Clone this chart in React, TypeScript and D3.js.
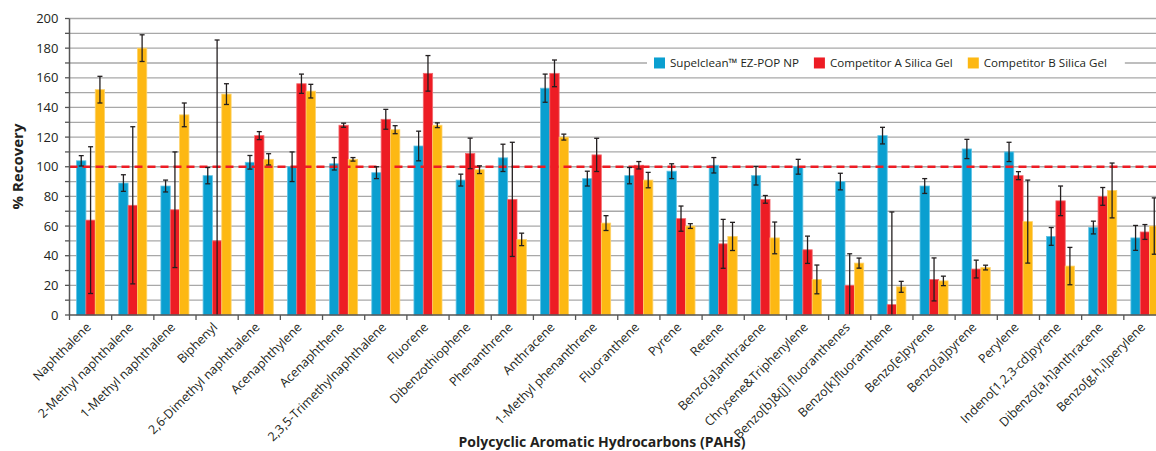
import React, { useEffect, useRef } from "react";
import * as d3 from "d3";

const categories = [
  "Naphthalene",
  "2-Methyl naphthalene",
  "1-Methyl naphthalene",
  "Biphenyl",
  "2,6-Dimethyl naphthalene",
  "Acenaphthylene",
  "Acenaphthene",
  "2,3,5-Trimethylnaphthalene",
  "Fluorene",
  "Dibenzothiophene",
  "Phenanthrene",
  "Anthracene",
  "1-Methyl phenanthrene",
  "Fluoranthene",
  "Pyrene",
  "Retene",
  "Benzo[a]anthracene",
  "Chrysene&Triphenylene",
  "Benzo[b]&[j] fluoranthenes",
  "Benzo[k]fluoranthene",
  "Benzo[e]pyrene",
  "Benzo[a]pyrene",
  "Perylene",
  "Indeno[1,2,3-cd]pyrene",
  "Dibenzo[a,h]anthracene",
  "Benzo[g,h,i]perylene",
];

const seriesNames = ["Supelclean™ EZ-POP NP", "Competitor A Silica Gel", "Competitor B Silica Gel"];

const supelclean = [104, 89, 87, 94, 103, 100, 102, 96, 114, 91, 106, 153, 92, 94, 97, 101, 94, 100, 90, 121, 87, 112, 110, 53, 59, 52];
const supelcleanErr = [3.5, 5.6, 4, 5.5, 4.6, 10, 4.2, 4, 10, 4, 9.2, 9.5, 5, 5.5, 5, 5.2, 6.3, 5, 5.6, 5.6, 5, 6.5, 6.5, 6, 4.3, 8.4];
const competitorA = [64, 74, 71, 50, 121, 156, 128, 132, 163, 109, 78, 163, 108, 101, 65, 48, 78, 44, 20, 7, 24, 31, 94, 77, 80, 56];
const competitorAErr = [49.5, 53, 39, 135.5, 2.7, 6.5, 1.4, 6.7, 12, 10.3, 38.5, 9, 11.2, 2.5, 8.5, 16.5, 2.6, 9.2, 21.3, 62.5, 14.5, 6, 2.7, 10, 6, 5];
const competitorB = [152, 180, 135, 149, 105, 151, 105, 125, 128, 98, 51, 120, 62, 91, 60, 53, 52, 24, 35, 19, 23, 32, 63, 33, 84, 60];
const competitorBErr = [9, 9, 8, 7, 3.8, 4.6, 1.2, 2.7, 1.6, 2.6, 4.2, 2, 5, 5.2, 1.6, 9.5, 10.7, 9.7, 3.4, 3.7, 3.2, 1.6, 28, 12.6, 18.5, 19];

const yTicks = [0, 20, 40, 60, 80, 100, 120, 140, 160, 180, 200];
const targetRecovery = 100;

const colors = ["#0a9fd0", "#ed1c24", "#fdb813"];
const edgeColors = ["#62c4e6", "#f36a6f", "#fed36a"];

const FONT = "'Open Sans', 'Noto Sans', sans-serif";

const App: React.FC = () => {
  const svgRef = useRef<SVGSVGElement>(null);

  useEffect(() => {
    if (!svgRef.current) return;
    const svg = d3.select(svgRef.current);
    svg.selectAll("*").remove();

    const left = 69.5;
    const right = 1166;
    const top = 18.5;
    const bottom = 315;

    const values = [supelclean, competitorA, competitorB];
    const errors = [supelcleanErr, competitorAErr, competitorBErr];

    const x0 = d3
      .scaleBand<string>()
      .domain(categories)
      .range([left, right])
      .paddingInner(0.335)
      .paddingOuter(0.1675);
    const x1 = d3.scaleBand<number>().domain([0, 1, 2]).range([0, x0.bandwidth()]);
    const y = d3.scaleLinear().domain([0, 200]).range([bottom, top]);
    const step = x0.step();

    // gridlines every 10
    const grid = svg.append("g");
    d3.range(10, 201, 10).forEach((v) => {
      grid
        .append("line")
        .attr("x1", left)
        .attr("x2", right)
        .attr("y1", y(v))
        .attr("y2", y(v))
        .attr("stroke", "#a8a8a8")
        .attr("stroke-width", 1.3);
    });

    // bars
    const bars = svg.append("g");
    values.forEach((series, s) => {
      bars
        .selectAll(`rect.s${s}`)
        .data(series)
        .enter()
        .append("rect")
        .attr("x", (_d, i) => (x0(categories[i]) || 0) + (x1(s) || 0))
        .attr("y", (d) => y(d))
        .attr("width", x1.bandwidth())
        .attr("height", (d) => bottom - y(d))
        .attr("fill", colors[s])
        .attr("stroke", edgeColors[s])
        .attr("stroke-width", 0.8);
    });

    // 100% line
    svg
      .append("line")
      .attr("x1", left)
      .attr("x2", right)
      .attr("y1", y(targetRecovery))
      .attr("y2", y(targetRecovery))
      .attr("stroke", "#ed1c24")
      .attr("stroke-width", 2.5)
      .attr("stroke-dasharray", "8,5");

    // error bars
    const err = svg.append("g").attr("stroke", "#231f20").attr("stroke-width", 1.3);
    values.forEach((series, s) => {
      series.forEach((v, i) => {
        const cx = (x0(categories[i]) || 0) + (x1(s) || 0) + x1.bandwidth() / 2;
        const hi = y(v + errors[s][i]);
        const loV = v - errors[s][i];
        const lo = y(Math.max(0, loV));
        err.append("line").attr("x1", cx).attr("x2", cx).attr("y1", hi).attr("y2", lo);
        err.append("line").attr("x1", cx - 2.5).attr("x2", cx + 2.5).attr("y1", hi).attr("y2", hi);
        if (loV > 0) {
          err.append("line").attr("x1", cx - 2.5).attr("x2", cx + 2.5).attr("y1", lo).attr("y2", lo);
        }
      });
    });

    // y axis
    const axisColor = "#555555";
    svg
      .append("line")
      .attr("x1", left)
      .attr("x2", left)
      .attr("y1", top)
      .attr("y2", bottom)
      .attr("stroke", axisColor)
      .attr("stroke-width", 1.5);
    d3.range(0, 201, 10).forEach((v) => {
      svg
        .append("line")
        .attr("x1", left - 4.5)
        .attr("x2", left)
        .attr("y1", y(v))
        .attr("y2", y(v))
        .attr("stroke", axisColor)
        .attr("stroke-width", 1.3);
    });
    svg
      .append("g")
      .selectAll("text")
      .data(yTicks)
      .enter()
      .append("text")
      .attr("x", left - 11)
      .attr("y", (d) => y(d))
      .attr("dy", "0.35em")
      .attr("text-anchor", "end")
      .style("font-family", FONT)
      .style("font-size", "13px")
      .attr("fill", "#231f20")
      .text((d) => d);

    // x axis
    svg
      .append("line")
      .attr("x1", left)
      .attr("x2", right)
      .attr("y1", bottom)
      .attr("y2", bottom)
      .attr("stroke", axisColor)
      .attr("stroke-width", 1.5);
    categories.forEach((c) => {
      const xs = (x0(c) || 0) - (step - x0.bandwidth()) / 2;
      svg
        .append("line")
        .attr("x1", xs)
        .attr("x2", xs)
        .attr("y1", bottom)
        .attr("y2", bottom + 5)
        .attr("stroke", axisColor)
        .attr("stroke-width", 1.3);
    });
    svg
      .append("g")
      .selectAll("text")
      .data(categories)
      .enter()
      .append("text")
      .attr("transform", (d) => `translate(${(x0(d) || 0) + x0.bandwidth() / 2 - 2},${bottom + 10}) rotate(-45)`)
      .attr("dy", "0.35em")
      .attr("text-anchor", "end")
      .style("font-family", FONT)
      .style("font-size", "12.5px")
      .attr("fill", "#231f20")
      .text((d) => d);

    // axis titles
    svg
      .append("text")
      .attr("transform", `translate(23,166.5) rotate(-90)`)
      .attr("text-anchor", "middle")
      .style("font-family", FONT)
      .style("font-size", "15px")
      .style("font-weight", "bold")
      .attr("fill", "#231f20")
      .text("% Recovery");
    svg
      .append("text")
      .attr("x", 602)
      .attr("y", 447)
      .attr("text-anchor", "middle")
      .style("font-family", FONT)
      .style("font-size", "14px")
      .style("font-weight", "bold")
      .attr("fill", "#231f20")
      .text("Polycyclic Aromatic Hydrocarbons (PAHs)");

    // legend
    const legend = svg.append("g");
    const bg = legend.append("rect").attr("fill", "#ffffff");
    const ly = y(170);
    let lx = 654;
    seriesNames.forEach((name, s) => {
      legend
        .append("rect")
        .attr("x", lx)
        .attr("y", ly - 5.5)
        .attr("width", 11)
        .attr("height", 11)
        .attr("fill", colors[s]);
      const t = legend
        .append("text")
        .attr("x", lx + 16)
        .attr("y", ly)
        .attr("dy", "0.35em")
        .style("font-family", FONT)
        .style("font-size", "11.6px")
        .attr("fill", "#231f20")
        .text(name);
      const w = (t.node() as SVGTextElement).getComputedTextLength();
      lx = lx + 16 + w + (s < seriesNames.length - 1 ? 15 : 18);
    });
    bg.attr("x", 647).attr("y", ly - 10).attr("width", lx - 647).attr("height", 20);
  }, []);

  return (
    <div style={{ position: "absolute", left: 0, top: 0 }}>
      <svg ref={svgRef} width={1156} height={451} style={{ display: "block", background: "#fff" }} />
    </div>
  );
};

export default App;
